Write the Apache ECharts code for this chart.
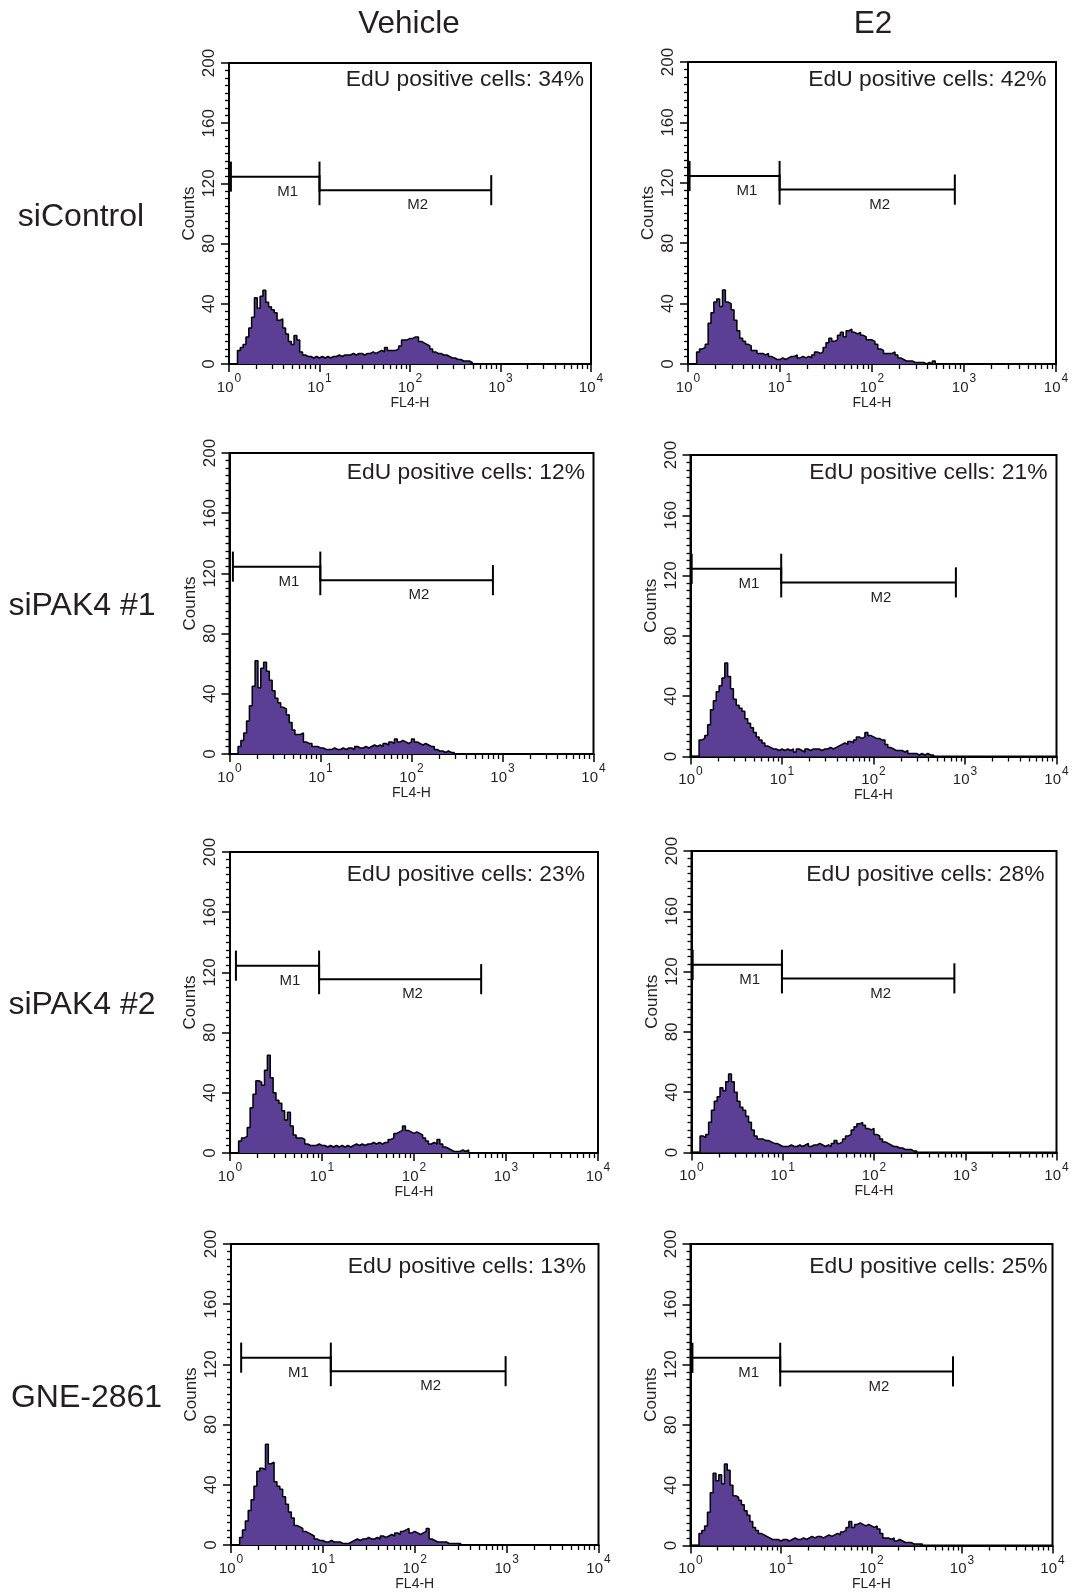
<!DOCTYPE html>
<html>
<head>
<meta charset="utf-8">
<script src="https://cdn.jsdelivr.net/npm/echarts@6/dist/echarts.min.js"></script>
<style>
  html, body { margin: 0; padding: 0; background: #ffffff; }
  #chart { width: 1073px; height: 1594px; }
</style>
</head>
<body>
<div id="chart"></div>
<script>
// ---- Flow cytometry EdU histograms (FL4-H, 32 channels per decade) ----
const CHANNELS_PER_DECADE = 32;

const rowLabels = ['siControl', 'siPAK4 #1', 'siPAK4 #2', 'GNE-2861'];
const columnLabels = ['Vehicle', 'E2'];
const eduPositive = [34, 42, 12, 21, 23, 28, 13, 25];
const markerNames = ['M1', 'M2'];
const markerLevels = [124.5, 115.5];

// counts per channel, starting at channel 0 (10^0)
const countsSiControlVehicle = [0,0,0,9,11,13,18,24,31,44,37,45,49,41,38,36,34,29,30,24,20,15,13,19,16,8,6,5,5,4,5,4,5,4,5,4,5,5,6,5,6,6,6,7,6,7,7,6,7,7,8,7,8,9,8,11,9,9,9,10,12,16,16,17,17,18,18,15,14,13,12,10,8,7,7,6,6,5,4,4,3,3,2,2,2,1];
const countsSiControlE2 = [0,0,0,8,10,11,13,27,34,41,43,38,49,41,40,36,29,22,17,15,13,12,9,9,7,7,6,7,5,4,3,3,4,3,4,5,5,6,4,5,4,5,4,6,8,7,8,11,14,17,15,16,19,21,18,22,23,21,20,21,19,18,16,16,15,13,10,9,7,7,7,8,6,4,3,2,2,2,1,1,1,1,0,1,0,2];
const countsSiPak4n1Vehicle = [0,0,0,5,9,14,22,32,45,62,44,57,61,55,49,42,37,34,31,30,26,21,16,13,13,14,8,7,7,5,5,4,4,3,3,3,4,3,3,4,3,4,4,3,5,4,4,5,4,5,6,5,6,5,7,6,8,7,10,8,9,8,7,8,10,8,7,6,7,6,5,5,3,2,2,1,2,1,1];
const countsSiPak4n1E2 = [0,0,0,11,12,14,21,31,37,43,47,52,62,53,45,38,34,32,30,25,22,19,16,13,11,9,7,6,5,5,4,5,4,5,4,5,3,5,4,3,5,4,5,5,5,4,5,5,6,5,6,7,8,9,8,10,9,11,13,12,13,16,14,13,12,12,11,11,8,6,5,4,4,4,3,4,2,2,2,1,2,1,2,1,1];
const countsSiPak4n2Vehicle = [0,0,0,8,10,11,17,30,39,48,47,45,55,65,50,40,35,33,28,22,27,18,12,10,10,9,6,5,5,5,6,5,5,4,5,4,5,4,5,4,5,4,5,6,5,6,5,6,6,7,6,7,6,7,7,9,10,13,14,15,18,15,14,13,14,13,12,10,8,6,7,6,9,6,4,3,2,1,1,1,2,1,2];
const countsSiPak4n2E2 = [0,0,0,11,10,12,20,28,34,37,43,41,47,52,47,40,34,30,28,24,20,15,11,9,9,8,8,7,6,6,5,4,4,4,5,4,4,5,4,5,6,4,5,5,6,5,4,5,4,6,8,6,7,9,11,12,15,17,19,20,18,16,15,16,12,11,9,7,6,5,4,4,3,3,2,2,2,1,1];
const countsGneVehicle = [0,0,0,5,10,16,23,30,39,49,51,50,67,54,55,42,39,37,32,27,22,18,13,12,11,9,8,7,6,4,3,3,2,2,3,2,2,2,1,1,1,2,3,4,3,4,4,5,4,4,5,4,6,5,6,7,6,8,7,9,10,11,8,9,8,7,8,9,11,4,3,2,2,2,2,1,1,1,1,1];
const countsGneE2 = [0,0,0,8,10,13,22,35,48,43,47,41,54,50,40,33,32,30,27,23,20,16,12,10,8,7,6,5,4,4,4,3,4,4,3,4,5,4,4,5,4,5,6,5,6,6,5,6,7,6,7,8,7,9,10,12,16,12,14,15,14,13,14,13,12,13,11,8,5,5,4,5,3,4,3,2,2,2,1,1,1,1];

// gate bounds [M1 start, M1 end / M2 start, M2 end] in FL4-H units
const gatesSiControlVehicle = [1.05, 10, 790];
const gatesSiControlE2 = [1.04, 9.9, 795];
const gatesSiPak4n1Vehicle = [1.09, 9.95, 785];
const gatesSiPak4n1E2 = [1.03, 9.8, 795];
const gatesSiPak4n2Vehicle = [1.16, 9.3, 537];
const gatesSiPak4n2E2 = [1.03, 9.8, 760];
const gatesGneVehicle = [1.29, 12.2, 975];
const gatesGneE2 = [1.05, 9.8, 795];

const panelCounts = [countsSiControlVehicle, countsSiControlE2, countsSiPak4n1Vehicle, countsSiPak4n1E2,
  countsSiPak4n2Vehicle, countsSiPak4n2E2, countsGneVehicle, countsGneE2];
const panelGates = [gatesSiControlVehicle, gatesSiControlE2, gatesSiPak4n1Vehicle, gatesSiPak4n1E2,
  gatesSiPak4n2Vehicle, gatesSiPak4n2E2, gatesGneVehicle, gatesGneE2];

// plot boxes: [left, top, width, height]
const panelBoxes = [
  [229, 63, 362, 301], [688, 62, 368, 302],
  [229.5, 453, 364, 301], [690.5, 455, 366, 301.5],
  [230, 852, 368, 301], [691.5, 851, 365, 301.5],
  [231, 1244, 367.5, 301], [690.5, 1244, 362, 301.5]
];
// EdU annotation anchors: [right edge x, center y]
const eduAnchors = [
  [584, 80], [1046.5, 80], [585, 473], [1047.5, 473],
  [585, 874.5], [1044.5, 874.5], [586, 1267], [1047.5, 1267]
];
const columnCenters = [409, 873];
const rowCenters = [[81, 217], [82, 606], [82, 1005], [86.5, 1398]];

const INK = '#231f20';
const FILL = '#5b3f94';
const SANS = '"Liberation Sans", Arial, Helvetica, sans-serif';
const NARROW = '"Liberation Sans Narrow", "Arial Narrow", "Liberation Sans", Arial, sans-serif';

function histogramPoints(counts) {
  const pts = counts.map((c, i) => [Math.pow(10, i / CHANNELS_PER_DECADE), c]);
  pts.push([Math.pow(10, counts.length / CHANNELS_PER_DECADE), 0]);
  return pts;
}

const grids = [], xAxes = [], yAxes = [], series = [], graphics = [];

panelBoxes.forEach((b, k) => {
  grids.push({
    left: b[0], top: b[1], width: b[2], height: b[3],
    show: true, borderColor: '#000', borderWidth: 2, backgroundColor: 'transparent'
  });
  xAxes.push({
    gridIndex: k, type: 'log', logBase: 10, min: 1, max: 10000,
    axisLine: { show: true, lineStyle: { color: '#000', width: 2 } },
    axisTick: { show: true, inside: false, length: 8, lineStyle: { color: '#000', width: 1.5 } },
    minorTick: { show: true, splitNumber: 9, length: 5, lineStyle: { color: '#000', width: 1.3 } },
    splitLine: { show: false }, minorSplitLine: { show: false },
    axisLabel: {
      margin: 9,
      fontSize: 15, fontFamily: SANS, color: INK,
      formatter: v => '{b|10}{s|' + Math.round(Math.log10(v)) + '}',
      rich: {
        // base "10" sits on the bottom of the line, exponent hangs from its top
        b: { fontSize: 15, fontFamily: SANS, color: INK, lineHeight: 16, verticalAlign: 'bottom' },
        s: { fontSize: 12, fontFamily: SANS, color: INK, lineHeight: 22, verticalAlign: 'top', padding: [0, 0, 10, 1] }
      }
    },
    name: 'FL4-H', nameLocation: 'middle', nameGap: 32,
    nameTextStyle: { fontSize: 14, fontFamily: SANS, color: INK }
  });
  yAxes.push({
    gridIndex: k, type: 'value', min: 0, max: 200, interval: 40,
    axisLine: { show: true, lineStyle: { color: '#000', width: 2 } },
    axisTick: { show: true, inside: false, length: 8, lineStyle: { color: '#000', width: 1.5 } },
    minorTick: { show: true, splitNumber: 8, length: 4, lineStyle: { color: '#000', width: 1.3 } },
    splitLine: { show: false }, minorSplitLine: { show: false },
    axisLabel: { rotate: 90, margin: 11, fontSize: 17, fontFamily: NARROW, color: INK },
    name: 'Counts', nameLocation: 'middle', nameRotate: 90, nameGap: 31,
    nameTextStyle: { fontSize: 17, fontFamily: NARROW, color: INK }
  });
  series.push({
    type: 'line', xAxisIndex: k, yAxisIndex: k,
    data: histogramPoints(panelCounts[k]),
    step: 'end', showSymbol: false, silent: true,
    lineStyle: { color: '#000', width: 1.5 },
    areaStyle: { color: FILL, opacity: 1 },
    z: 2
  });
  const g = panelGates[k];
  series.push({
    type: 'custom', xAxisIndex: k, yAxisIndex: k, silent: true, z: 5,
    data: [[g[0], g[1], markerLevels[0]], [g[1], g[2], markerLevels[1]]],
    encode: { x: [0, 1], y: 2 },
    renderItem: (params, api) => {
      const x0 = api.value(0), x1 = api.value(1), y = api.value(2);
      const a = api.coord([x0, y]), c = api.coord([x1, y]);
      const top = api.coord([x0, y + 10])[1];
      const bot = api.coord([x0, y - 10])[1];
      const ly = api.coord([x0, y - 10])[1];
      const stroke = { stroke: '#000', lineWidth: 2 };
      return {
        type: 'group',
        children: [
          { type: 'line', shape: { x1: a[0], y1: a[1], x2: c[0], y2: c[1] }, style: stroke },
          { type: 'line', shape: { x1: a[0], y1: top, x2: a[0], y2: bot }, style: stroke },
          { type: 'line', shape: { x1: c[0], y1: top, x2: c[0], y2: bot }, style: stroke },
          { type: 'text', x: (a[0] + c[0]) / 2 + 2, y: ly,
            style: { text: markerNames[params.dataIndex], align: 'left', verticalAlign: 'middle',
                     font: '15px ' + SANS, fill: INK } }
        ]
      };
    }
  });
  graphics.push({
    type: 'text', x: eduAnchors[k][0], y: eduAnchors[k][1], silent: true,
    style: { text: 'EdU positive cells: ' + eduPositive[k] + '%', align: 'right', verticalAlign: 'middle',
             font: '22.8px ' + SANS, fill: INK }
  });
});

columnLabels.forEach((t, i) => {
  graphics.push({
    type: 'text', x: columnCenters[i], y: 24, silent: true,
    style: { text: t, align: 'center', verticalAlign: 'middle', font: '31.5px ' + SANS, fill: INK }
  });
});
rowLabels.forEach((t, i) => {
  graphics.push({
    type: 'text', x: rowCenters[i][0], y: rowCenters[i][1], silent: true,
    style: { text: t, align: 'center', verticalAlign: 'middle', font: '32px ' + SANS, fill: INK }
  });
});

const chart = echarts.init(document.getElementById('chart'), null, { renderer: 'canvas' });
chart.setOption({
  animation: false,
  backgroundColor: '#ffffff',
  grid: grids,
  xAxis: xAxes,
  yAxis: yAxes,
  series: series,
  graphic: graphics
});
</script>
</body>
</html>
